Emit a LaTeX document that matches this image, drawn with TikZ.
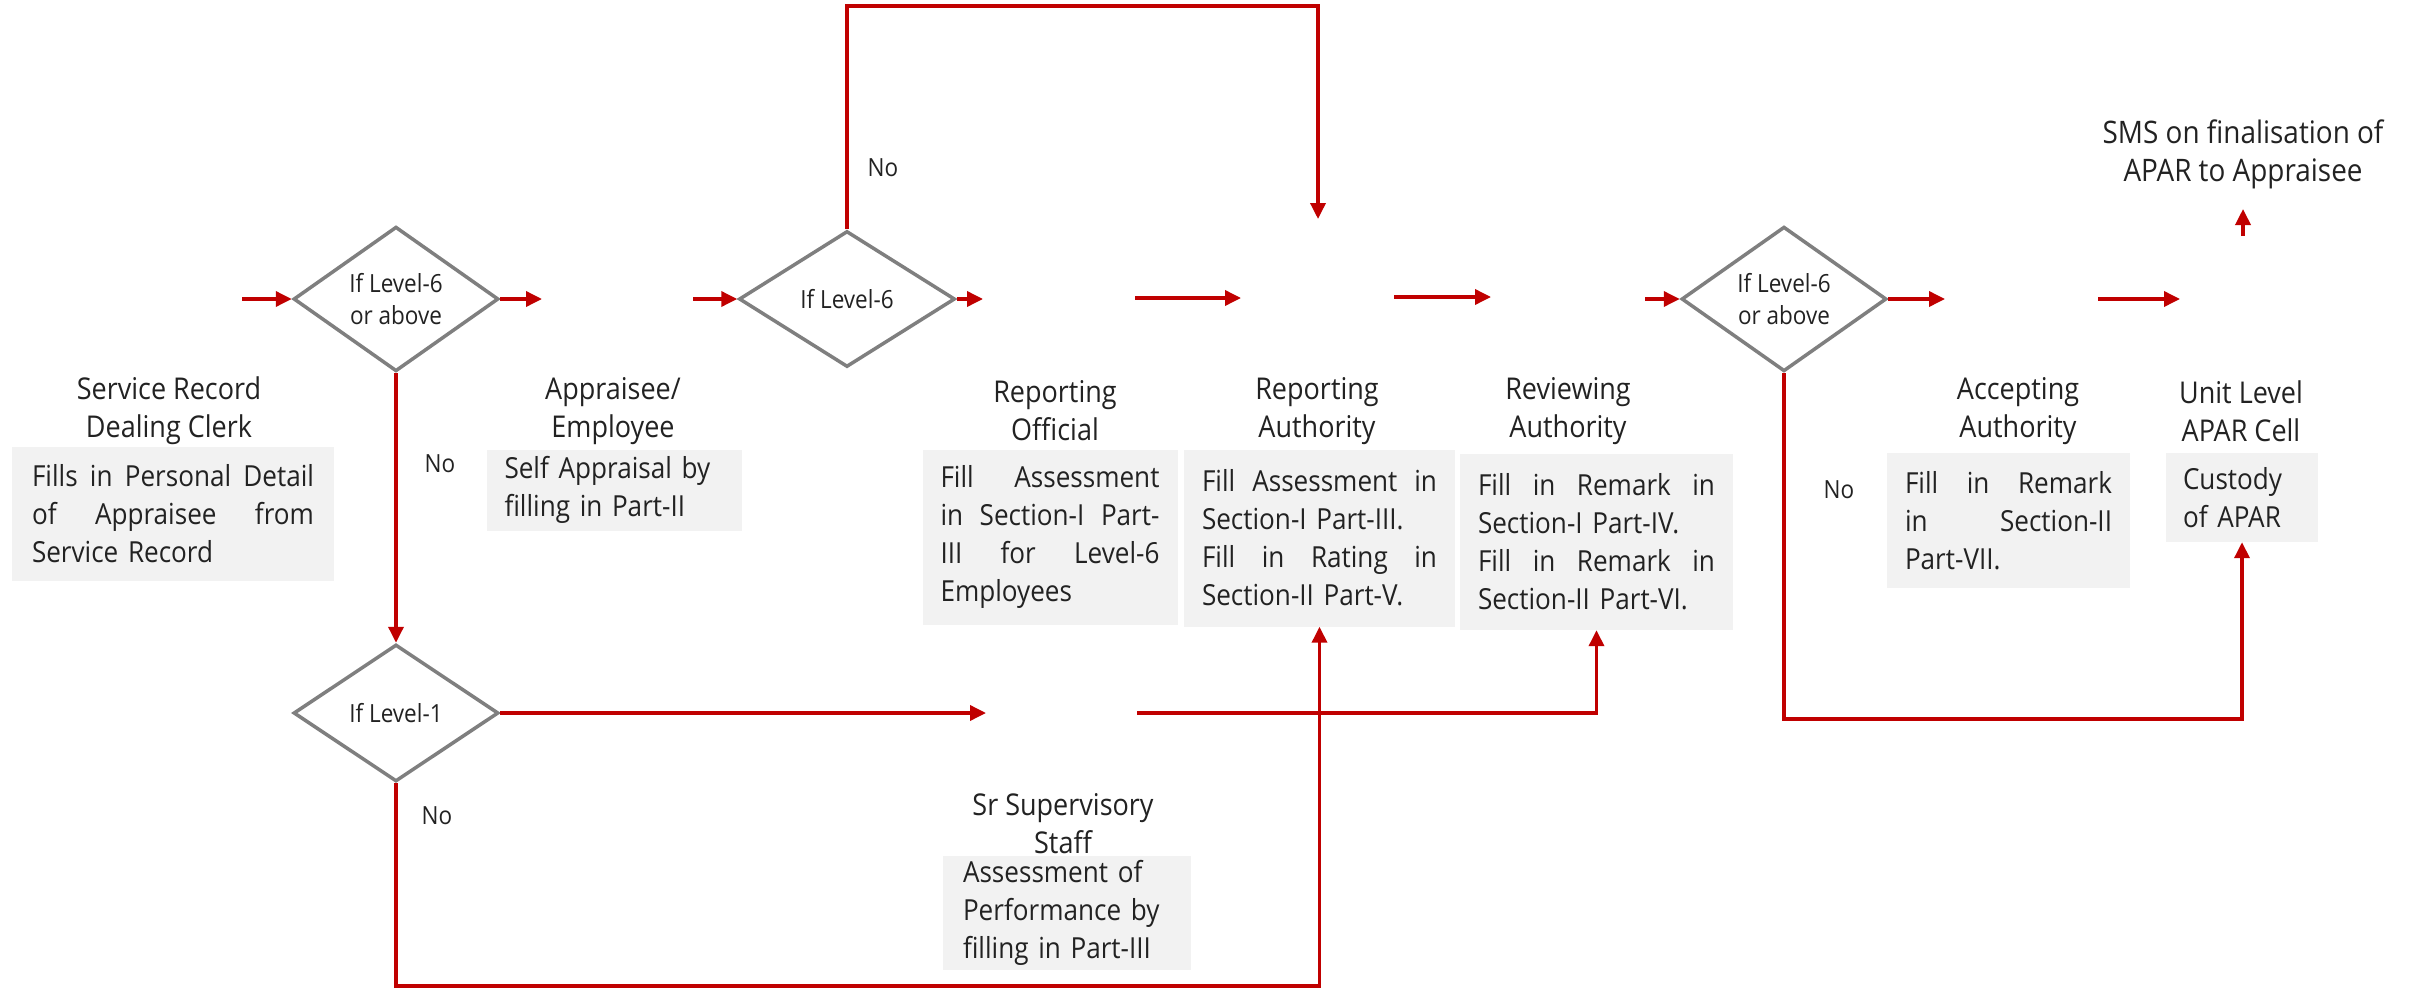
\documentclass[tikz,border=0pt]{standalone}
\usepackage{fontspec}
\setmainfont{Open Sans}[FakeStretch=0.9]
\usetikzlibrary{shapes.geometric,arrows.meta}
\definecolor{arr}{HTML}{C00000}
\definecolor{dgray}{HTML}{7F7F7F}
\definecolor{boxgray}{HTML}{F2F2F2}
\definecolor{txt}{HTML}{222222}
\newcommand\jl[1]{\makebox[\hsize][s]{\spaceskip=.3em plus 1fil\relax #1}}
\begin{document}
\begin{tikzpicture}[x=1pt,y=-1pt,
  flow/.style={draw=arr,line width=3.5pt,-{Triangle[length=16pt,width=15pt]}},
  dec/.style={diamond,draw=dgray,line width=3.5pt,fill=white,inner sep=0pt,align=center,
    font=\fontsize{25}{32}\selectfont,text=txt},
  role/.style={align=center,font=\fontsize{30}{38}\selectfont,text=txt},
  desc/.style={fill=boxgray,inner xsep=18pt,inner ysep=0pt,align=left,text=txt,
    font=\fontsize{29}{38}\selectfont},
  nolab/.style={font=\fontsize{25}{30}\selectfont,text=txt}
]
\useasboundingbox (0,0) rectangle (2415,990);

% decisions
\node[dec,minimum width=205pt,minimum height=136pt] (d1) at (396,299) {If Level-6\\or above};
\node[dec,minimum width=216pt,minimum height=136pt] (d2) at (847,299) {If Level-6};
\node[dec,minimum width=205pt,minimum height=136pt] (d4) at (1784,299) {If Level-6\\or above};
\node[dec,minimum width=205pt,minimum height=137pt] (d3) at (396,713) {If Level-1};

% roles
\node[role] (t1) at (169,411) {Service Record\\Dealing Clerk};
\node[role] (t2) at (613,411) {Appraisee/\\Employee};
\node[role] (t3) at (1055,411) {Reporting\\Official};
\node[role] (t4) at (1317,411) {Reporting\\Authority};
\node[role] (t5) at (1568,411) {Reviewing\\Authority};
\node[role] (t7) at (2018,411) {Accepting\\Authority};
\node[role] (t8) at (2241,411) {Unit Level\\APAR Cell};
\node[role] (t6) at (1063,824) {Sr Supervisory\\Staff};
\node[role,font=\fontsize{31}{38}\selectfont] (sms) at (2243,154) {SMS on finalisation of\\APAR to Appraisee};

% description boxes
\node[desc,inner xsep=20pt,text width=282pt,minimum height=134pt] (b1) at (173,514)
  {\jl{Fills in Personal Detail}\\\jl{of Appraisee from}\\Service Record};
\node[desc,text width=219pt,minimum height=81pt] (b2) at (614,490)
  {Self Appraisal by\\filling in Part-II};
\node[desc,text width=219pt,minimum height=175pt] (b3) at (1050,537)
  {\jl{Fill Assessment}\\\jl{in Section-I Part-}\\\jl{III for Level-6}\\Employees};
\node[desc,text width=235pt,minimum height=177pt] (b4) at (1319.5,538)
  {\jl{Fill Assessment in}\\Section-I Part-III.\\\jl{Fill in Rating in}\\Section-II Part-V.};
\node[desc,text width=237pt,minimum height=176pt] (b5) at (1596.5,542)
  {\jl{Fill in Remark in}\\Section-I Part-IV.\\\jl{Fill in Remark in}\\Section-II Part-VI.};
\node[desc,text width=207pt,minimum height=135pt] (b7) at (2008.5,520.5)
  {\jl{Fill in Remark}\\\jl{in Section-II}\\Part-VII.};
\node[desc,inner xsep=17pt,text width=118pt,minimum height=89pt] (b8) at (2242,497.5)
  {Custody\\of APAR};
\node[desc,inner xsep=20pt,text width=208pt,minimum height=114pt] (b6) at (1067,913)
  {Assessment of\\Performance by\\filling in Part-III};

% No labels
\node[nolab] (n1) at (440,464) {No};
\node[nolab] (n2) at (883,168) {No};
\node[nolab] (n3) at (1839,490) {No};
\node[nolab] (n4) at (437,816) {No};

% free ends
\coordinate (s0) at (242,299);
\coordinate (e1) at (542,299);
\coordinate (s2) at (693,299);
\coordinate (e2) at (983,299);
\coordinate (s3) at (1135,298);
\coordinate (e3) at (1241,298);
\coordinate (s4) at (1394,297);
\coordinate (e4) at (1491,297);
\coordinate (s5) at (1645,299);
\coordinate (e5) at (1945,299);
\coordinate (s6) at (2098,299);
\coordinate (e6) at (2180,299);
\coordinate (s7) at (2243,236);
\coordinate (e7) at (2243,209);
\coordinate (c8) at (1318,6);
\coordinate (e8) at (1318,219);
\coordinate (e9) at (986,713);
\coordinate (s10) at (1137,713);
\coordinate (c11) at (0,986);
\coordinate (c12) at (0,719);

% connectors
\draw[flow] (s0) -- (d1.west);
\draw[flow] (d1.east) -- (e1);
\draw[flow] (s2) -- (d2.west);
\draw[flow] (d2.east) -- (e2);
\draw[flow] (s3) -- (e3);
\draw[flow] (s4) -- (e4);
\draw[flow] (s5) -- (d4.west);
\draw[flow] (d4.east) -- (e5);
\draw[flow] (s6) -- (e6);
\draw[flow] (s7) -- (e7);
\draw[flow] (d2.north) |- (c8) -- (e8);
\draw[flow] (d1.south) -- (d3.north);
\draw[flow] (d3.east) -- (e9);
\draw[flow] (s10) -| (b5.south);
\draw[flow] (d3.south) -- (d3.south |- c11) -| (b4.south);
\draw[flow] (d4.south) -- (d4.south |- c12) -| (b8.south);
\end{tikzpicture}
\end{document}
